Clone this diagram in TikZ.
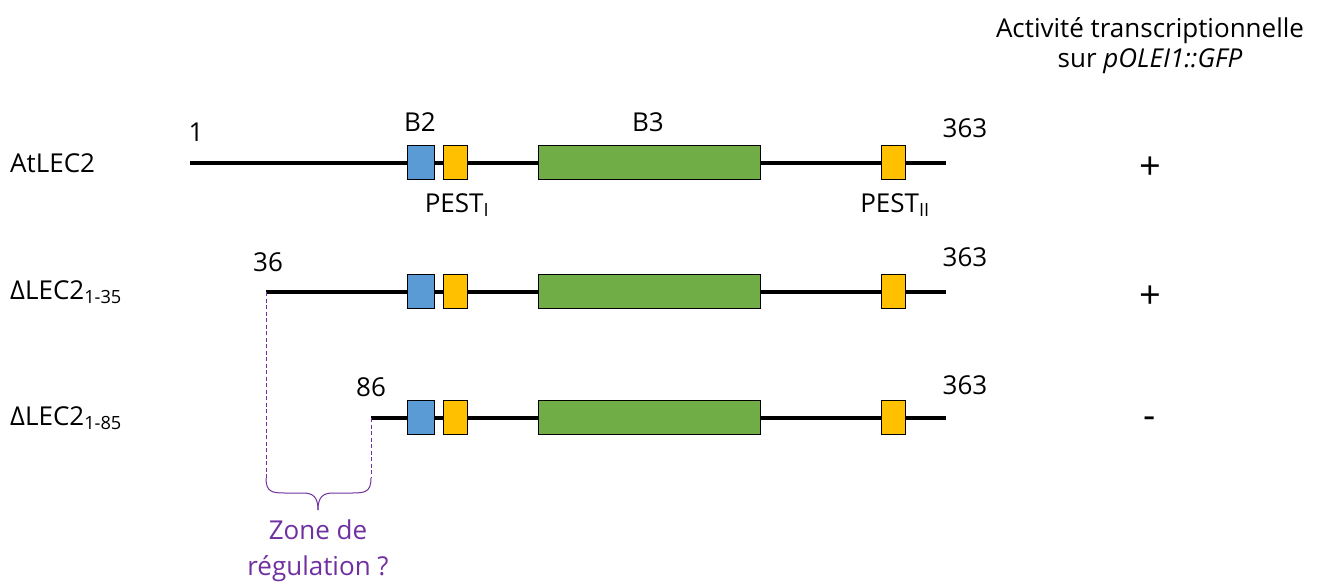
\documentclass[tikz,border=0pt]{standalone}
\usepackage{fontspec}
\setmainfont{Open Sans}
\definecolor{bblue}{HTML}{5B9BD5}
\definecolor{byellow}{HTML}{FFC000}
\definecolor{bgreen}{HTML}{70AD47}
\definecolor{zpurple}{HTML}{7030A0}
\begin{document}
\begin{tikzpicture}[x=1pt,y=-1pt,
  lab/.style={font=\fontsize{26}{30}\selectfont, inner sep=0pt},
  smalllab/.style={font=\fontsize{26}{30}\selectfont, inner sep=0pt},
  signlab/.style={font=\fontsize{38}{40}\selectfont, inner sep=0pt},
  prot/.style={line width=3.6pt},
  dom/.style={draw=black, line width=1pt, minimum height=34pt, inner sep=0pt, anchor=west},
  b2/.style={dom, fill=bblue, minimum width=27pt},
  pest/.style={dom, fill=byellow, minimum width=24pt},
  b3/.style={dom, fill=bgreen, minimum width=222pt},
  zone/.style={draw=zpurple, line width=1pt},
]
\useasboundingbox (0,0) rectangle (1318,582);

% title
\node[smalllab, align=center] (title) at (1150,46) {Activité transcriptionnelle\\[0pt] sur \textit{pOLEI1::GFP}};

% row 1
\coordinate (s1) at (190,163);
\coordinate (e1) at (946,163);
\draw[prot] (s1) -- (e1);
\node[b2] (b2a) at (407,162) {};
\node[pest] (p1a) at (443,162) {};
\node[b3] (b3a) at (538,162) {};
\node[pest] (p2a) at (881,162) {};
\node[lab, anchor=west] (n1) at (10,163) {AtLEC2};
\node[lab] (one) at (196,132) {1};
\node[lab] (B2l) at (420,122) {B2};
\node[lab] (B3l) at (648,122) {B3};
\node[lab] (end1) at (965,128) {363};
\node[lab] (pI) at (457,205) {PEST\textsubscript{I}};
\node[lab] (pII) at (895,205) {PEST\textsubscript{II}};
\node[signlab] (a1) at (1150,168) {+};

% row 2
\coordinate (s2) at (266,292);
\coordinate (e2) at (946,292);
\draw[prot] (s2) -- (e2);
\node[b2] (b2b) at (407,291) {};
\node[pest] (p1b) at (443,291) {};
\node[b3] (b3b) at (538,291) {};
\node[pest] (p2b) at (881,291) {};
\node[lab, anchor=west] (n2) at (10,292) {ΔLEC2\textsubscript{1-35}};
\node[lab] (st2) at (268,262) {36};
\node[lab] (end2) at (965,257) {363};
\node[signlab] (a2) at (1150,297) {+};

% row 3
\coordinate (s3) at (371,418);
\coordinate (e3) at (946,418);
\draw[prot] (s3) -- (e3);
\node[b2] (b2c) at (407,417) {};
\node[pest] (p1c) at (443,417) {};
\node[b3] (b3c) at (538,417) {};
\node[pest] (p2c) at (881,417) {};
\node[lab, anchor=west] (n3) at (10,418) {ΔLEC2\textsubscript{1-85}};
\node[lab] (st3) at (371,387) {86};
\node[lab] (end3) at (965,385) {363};
\node[signlab] (a3) at (1150,423) {-};

% zone
\coordinate (bl) at (266,478);
\coordinate (br) at (371,478);
\coordinate (tip) at (318,510);
\draw[zone, dash pattern=on 4pt off 2.5pt] (s2) -- (bl);
\draw[zone, dash pattern=on 4pt off 2.5pt] (s3) -- (br);
\draw[zone] (bl) .. controls (266,492) and (272,493) .. (285,493) -- (303,493)
  .. controls (313,493) and (318,497) .. (tip);
\draw[zone] (br) .. controls (371,492) and (365,493) .. (352,493) -- (333,493)
  .. controls (323,493) and (318,497) .. (tip);
\node[lab, text=zpurple, align=center] (zl) at (318,551) {Zone de\\[6pt] régulation ?};
\end{tikzpicture}
\end{document}
